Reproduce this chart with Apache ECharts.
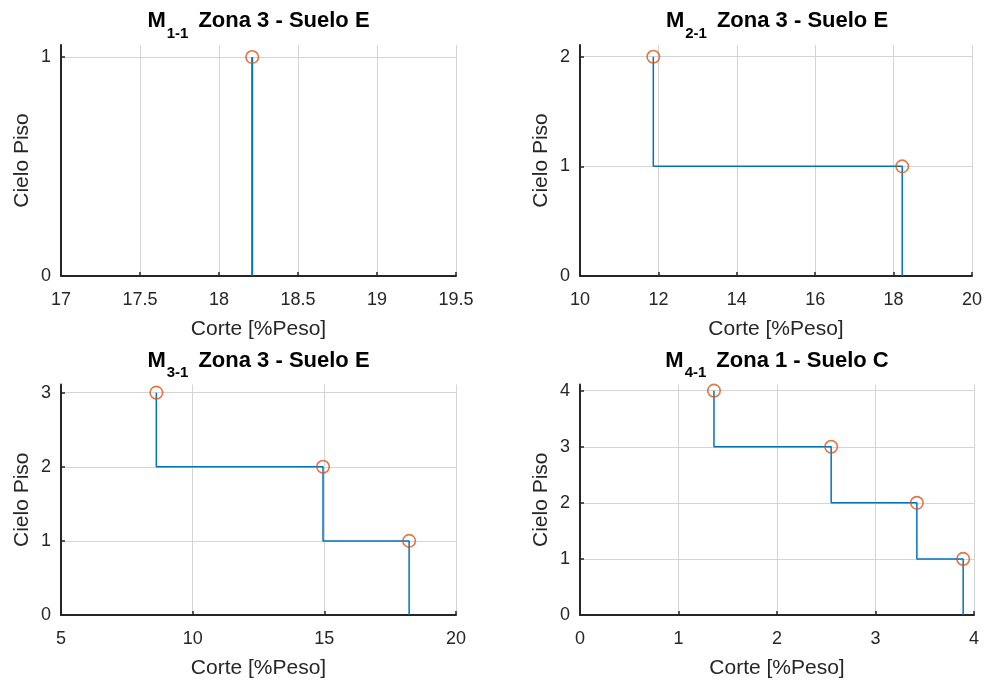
<!DOCTYPE html>
<html>
<head>
<meta charset="utf-8">
<script src="https://cdn.jsdelivr.net/npm/echarts@6/dist/echarts.min.js"></script>
<style>
  html, body { margin: 0; padding: 0; background: #fff; }
  #chart { width: 985px; height: 680px; }
</style>
</head>
<body>
<div id="chart"></div>
<script>
// Cortante por piso (% del peso) for each model; index 0 = piso 1
const corteM1 = [18.21];
const corteM2 = [18.22, 11.87];
const corteM3 = [18.22, 14.95, 8.62];
const corteM4 = [3.89, 3.42, 2.55, 1.36];

// X tick labels of each panel
const xTicksM1 = [17, 17.5, 18, 18.5, 19, 19.5];
const xTicksM2 = [10, 12, 14, 16, 18, 20];
const xTicksM3 = [5, 10, 15, 20];
const xTicksM4 = [0, 1, 2, 3, 4];

// Title parts: model subscript and description
const modelSubs = ['1-1', '2-1', '3-1', '4-1'];
const modelDesc = ['Zona 3 - Suelo E', 'Zona 3 - Suelo E', 'Zona 3 - Suelo E', 'Zona 1 - Suelo C'];

const xLabel = 'Corte [%Peso]';
const yLabel = 'Cielo Piso';

const FAMILY = '"Liberation Sans", Arial, Helvetica, sans-serif';
const AXIS_COLOR = '#262626';
const GRID_COLOR = '#d4d4d4';
const LINE_COLOR = '#0072BD';
const MARK_COLOR = '#D95319';

const TITLE_FONT = 'bold 22px ' + FAMILY;
const SUB_FONT = 'bold 15px ' + FAMILY;

// Panel frames (px) and the headroom above the top floor
const panels = [
  { corte: corteM1, xTicks: xTicksM1, left: 61,  top: 45,    width: 395, height: 231,   yTop: 1.055, lw: 2 },
  { corte: corteM2, xTicks: xTicksM2, left: 580, top: 45,    width: 394, height: 231,   yTop: 2.107, lw: 1.5 },
  { corte: corteM3, xTicks: xTicksM3, left: 61,  top: 384.5, width: 395, height: 231.5, yTop: 3.11,  lw: 1.5 },
  { corte: corteM4, xTicks: xTicksM4, left: 580, top: 384.5, width: 394, height: 231.5, yTop: 4.11,  lw: 1.5 }
];

// Text measuring for laying out the subscripted titles
const measureCtx = document.createElement('canvas').getContext('2d');
function textWidth(str, font) {
  measureCtx.font = font;
  return measureCtx.measureText(str).width;
}

// Staircase path: vertical rise at each floor's shear, then step to the next floor
function stairPath(corte) {
  const pts = [[corte[0], 0]];
  for (let i = 0; i < corte.length; i++) {
    pts.push([corte[i], i + 1]);
    if (i + 1 < corte.length) pts.push([corte[i + 1], i + 1]);
  }
  return pts;
}

const grids = [], xAxes = [], yAxes = [], series = [], graphics = [];

panels.forEach((p, k) => {
  const n = p.corte.length;
  const floors = [];
  for (let i = 0; i <= n; i++) floors.push(i);

  grids.push({ left: p.left, top: p.top, width: p.width, height: p.height, containLabel: false });

  xAxes.push({
    gridIndex: k, type: 'value',
    min: p.xTicks[0], max: p.xTicks[p.xTicks.length - 1],
    interval: p.xTicks[1] - p.xTicks[0],
    name: xLabel, nameLocation: 'middle', nameGap: 43,
    nameTextStyle: { fontFamily: FAMILY, fontSize: 21, color: AXIS_COLOR },
    axisLine: { show: true, onZero: false, lineStyle: { color: AXIS_COLOR, width: 2 } },
    axisTick: { show: true, inside: true, length: 4, lineStyle: { color: AXIS_COLOR, width: 1.5 } },
    axisLabel: { fontFamily: FAMILY, fontSize: 18, color: AXIS_COLOR, margin: 15, showMinLabel: true, showMaxLabel: true },
    splitLine: { show: true, lineStyle: { color: GRID_COLOR, width: 1 } }
  });

  yAxes.push({
    gridIndex: k, type: 'value',
    min: 0, max: p.yTop,
    name: yLabel, nameLocation: 'middle', nameGap: 28, nameRotate: 90,
    nameTextStyle: { fontFamily: FAMILY, fontSize: 21, color: AXIS_COLOR },
    axisLine: { show: true, onZero: false, lineStyle: { color: AXIS_COLOR, width: 2 } },
    axisTick: { show: true, inside: true, length: 4, customValues: floors, lineStyle: { color: AXIS_COLOR, width: 1.5 } },
    axisLabel: { fontFamily: FAMILY, fontSize: 18, color: AXIS_COLOR, margin: 10, customValues: floors },
    splitLine: { show: true, lineStyle: { color: GRID_COLOR, width: 1 } }
  });

  series.push({
    type: 'line', xAxisIndex: k, yAxisIndex: k,
    data: stairPath(p.corte),
    showSymbol: false, symbol: 'none', silent: true, animation: false,
    lineStyle: { color: LINE_COLOR, width: p.lw }, z: 3
  });

  series.push({
    type: 'scatter', xAxisIndex: k, yAxisIndex: k,
    data: p.corte.map((c, i) => [c, i + 1]),
    symbol: 'circle', symbolSize: 12.5, animation: false, silent: true,
    itemStyle: { color: 'rgba(0,0,0,0)', borderColor: MARK_COLOR, borderWidth: 1.6 },
    z: 4
  });

  // Title: "M" + subscript model id + description, centred over the plot
  const wM = textWidth('M', TITLE_FONT);
  const wS = textWidth(modelSubs[k], SUB_FONT);
  const gap = 10;
  const wT = textWidth(modelDesc[k], TITLE_FONT);
  const total = wM + 1 + wS + gap + wT;
  const x0 = p.left + p.width / 2 - total / 2;
  const cy = p.top - 24;
  graphics.push(
    { type: 'text', x: x0, y: cy, silent: true,
      style: { text: 'M', font: TITLE_FONT, fill: '#000', align: 'left', verticalAlign: 'middle' } },
    { type: 'text', x: x0 + wM + 1, y: cy + 12.5, silent: true,
      style: { text: modelSubs[k], font: SUB_FONT, fill: '#000', align: 'left', verticalAlign: 'middle' } },
    { type: 'text', x: x0 + wM + 1 + wS + gap, y: cy, silent: true,
      style: { text: modelDesc[k], font: TITLE_FONT, fill: '#000', align: 'left', verticalAlign: 'middle' } }
  );
});

const chart = echarts.init(document.getElementById('chart'), null, { renderer: 'canvas' });
chart.setOption({
  backgroundColor: '#fff',
  animation: false,
  textStyle: { fontFamily: FAMILY },
  grid: grids,
  xAxis: xAxes,
  yAxis: yAxes,
  series: series,
  graphic: graphics
});
</script>
</body>
</html>
